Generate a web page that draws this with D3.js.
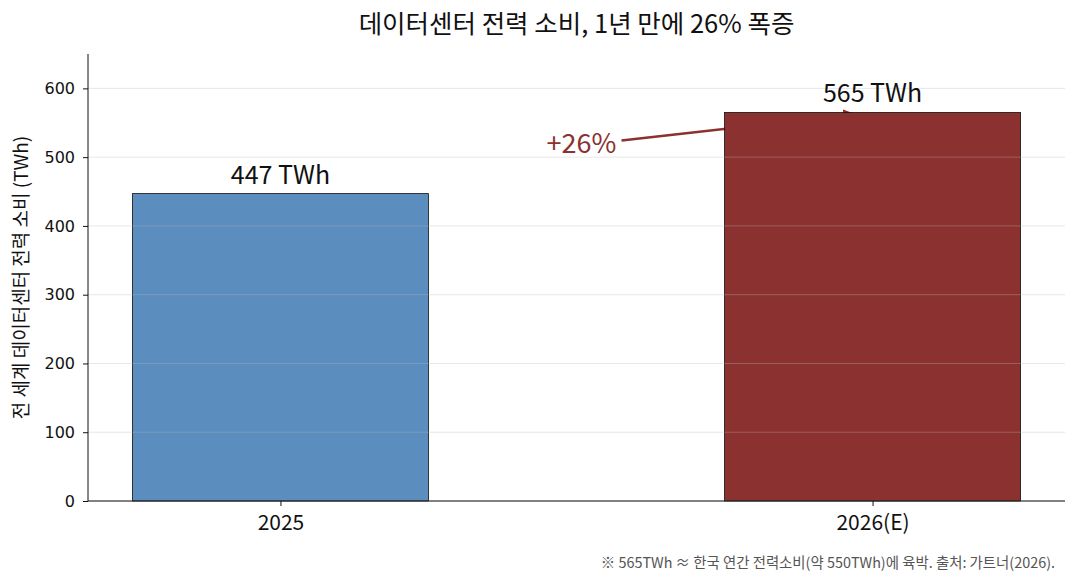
<!DOCTYPE html>
<html>
<head>
<meta charset="utf-8">
<title>데이터센터 전력 소비</title>
<script src="https://cdn.jsdelivr.net/npm/d3@7"></script>
<style>
    body { margin: 0; background: #fff; }
    svg text { font-family: "Noto Sans CJK KR", "Noto Sans", sans-serif; }
</style>
</head>
<body>
<svg id="chart" width="1077" height="582"></svg>
<script>
    // data
    const categories = ['2025', '2026(E)'];
    const values = [447, 565];
    const barColors = ['#5b8dbe', '#8b3130'];
    const yTicks = [0, 100, 200, 300, 400, 500, 600];
    const valueLabels = ['447 TWh', '565 TWh'];
    const growthLabel = '+26%';

    const W = 1077, H = 582;
    const margin = {top: 54, right: 12, bottom: 81, left: 88};

    const svg = d3.select('#chart');

    const x = d3.scaleLinear()
        .domain([-0.325, 1.325])
        .range([margin.left, W - margin.right]);
    const y = d3.scaleLinear()
        .domain([0, 650])
        .range([H - margin.bottom, margin.top]);
    const barW = x(0.5) - x(0);

    /// annotation arrow (drawn under the bars)
    const tx = x(0.5) + 5, ty = y(520);
    const x0 = tx + 40, y0 = ty - 3;
    const x1 = x(1), y1 = y(values[1]);
    const len = Math.hypot(x1 - x0, y1 - y0);
    const shrink = 18;
    const ex = x1 - (x1 - x0) / len * shrink, ey = y1 - (y1 - y0) / len * shrink;
    svg.append('defs').append('marker')
        .attr('id', 'head')
        .attr('viewBox', '0 0 10 10')
        .attr('refX', 9).attr('refY', 5)
        .attr('markerWidth', 5).attr('markerHeight', 5)
        .attr('orient', 'auto')
        .append('path')
        .attr('d', 'M0,0 L10,5 L0,10 z')
        .attr('fill', '#8b3130');
    svg.append('line')
        .attr('x1', x0).attr('y1', y0)
        .attr('x2', ex).attr('y2', ey)
        .attr('stroke', '#8b3130')
        .attr('stroke-width', 2.5)
        .attr('marker-end', 'url(#head)');

    /// bars
    svg.append('g')
        .selectAll('rect')
        .data(values)
        .join('rect')
        .attr('x', (d, i) => x(i) - barW / 2)
        .attr('y', d => y(d))
        .attr('width', barW)
        .attr('height', d => y(0) - y(d))
        .attr('fill', (d, i) => barColors[i])
        .attr('stroke', '#111')
        .attr('stroke-width', 0.8);

    /// grid (on top, semi transparent)
    svg.append('g')
        .selectAll('line')
        .data(yTicks)
        .join('line')
        .attr('x1', margin.left).attr('x2', W - margin.right)
        .attr('y1', d => y(d)).attr('y2', d => y(d))
        .attr('stroke', '#bbbbbb')
        .attr('stroke-opacity', 0.35)
        .attr('stroke-width', 1);

    /// y axis
    const yAxis = svg.append('g')
        .attr('transform', `translate(${margin.left},0)`)
        .call(d3.axisLeft(y).tickValues(yTicks).tickSize(5).tickPadding(8));
    yAxis.select('.domain').attr('d', `M0,${y(650)}V${y(0)}`).attr('stroke', '#111');
    yAxis.selectAll('.tick line').attr('stroke', '#111');
    yAxis.selectAll('text')
        .style('font-family', '"DejaVu Sans", sans-serif')
        .style('font-size', '16px').attr('fill', '#111');

    /// x axis
    const xAxis = svg.append('g')
        .attr('transform', `translate(0,${y(0)})`)
        .call(d3.axisBottom(x).tickValues([0, 1]).tickFormat((d, i) => categories[i]).tickSize(5).tickPadding(9));
    xAxis.select('.domain').attr('d', `M${margin.left},0H${W - margin.right}`).attr('stroke', '#111');
    xAxis.selectAll('.tick line').attr('stroke', '#111');
    xAxis.selectAll('text').style('font-size', '21px').attr('fill', '#111');

    /// value labels
    svg.append('g')
        .selectAll('text')
        .data(values)
        .join('text')
        .attr('x', (d, i) => x(i))
        .attr('y', d => y(d) - 10)
        .attr('text-anchor', 'middle')
        .style('font-size', '25px')
        .attr('fill', '#111')
        .text((d, i) => valueLabels[i]);

    /// growth label
    svg.append('text')
        .attr('x', tx).attr('y', ty)
        .attr('dy', '0.35em')
        .attr('text-anchor', 'middle')
        .style('font-size', '27px')
        .attr('fill', '#8b3130')
        .text(growthLabel);

    /// y label
    svg.append('text')
        .attr('transform', `translate(28,${(y(0) + y(650)) / 2}) rotate(-90)`)
        .attr('text-anchor', 'middle')
        .style('font-size', '19px')
        .attr('fill', '#111')
        .text('전 세계 데이터센터 전력 소비 (TWh)');

    /// title
    svg.append('text')
        .attr('x', (margin.left + W - margin.right) / 2)
        .attr('y', 33)
        .attr('text-anchor', 'middle')
        .style('font-size', '25.5px')
        .attr('fill', '#111')
        .text('데이터센터 전력 소비, 1년 만에 26% 폭증');

    /// footnote
    svg.append('text')
        .attr('x', W - 22)
        .attr('y', 568)
        .attr('text-anchor', 'end')
        .style('font-size', '14.4px')
        .attr('fill', '#555')
        .text('※ 565TWh ≈ 한국 연간 전력소비(약 550TWh)에 육박. 출처: 가트너(2026).');
</script>
</body>
</html>
